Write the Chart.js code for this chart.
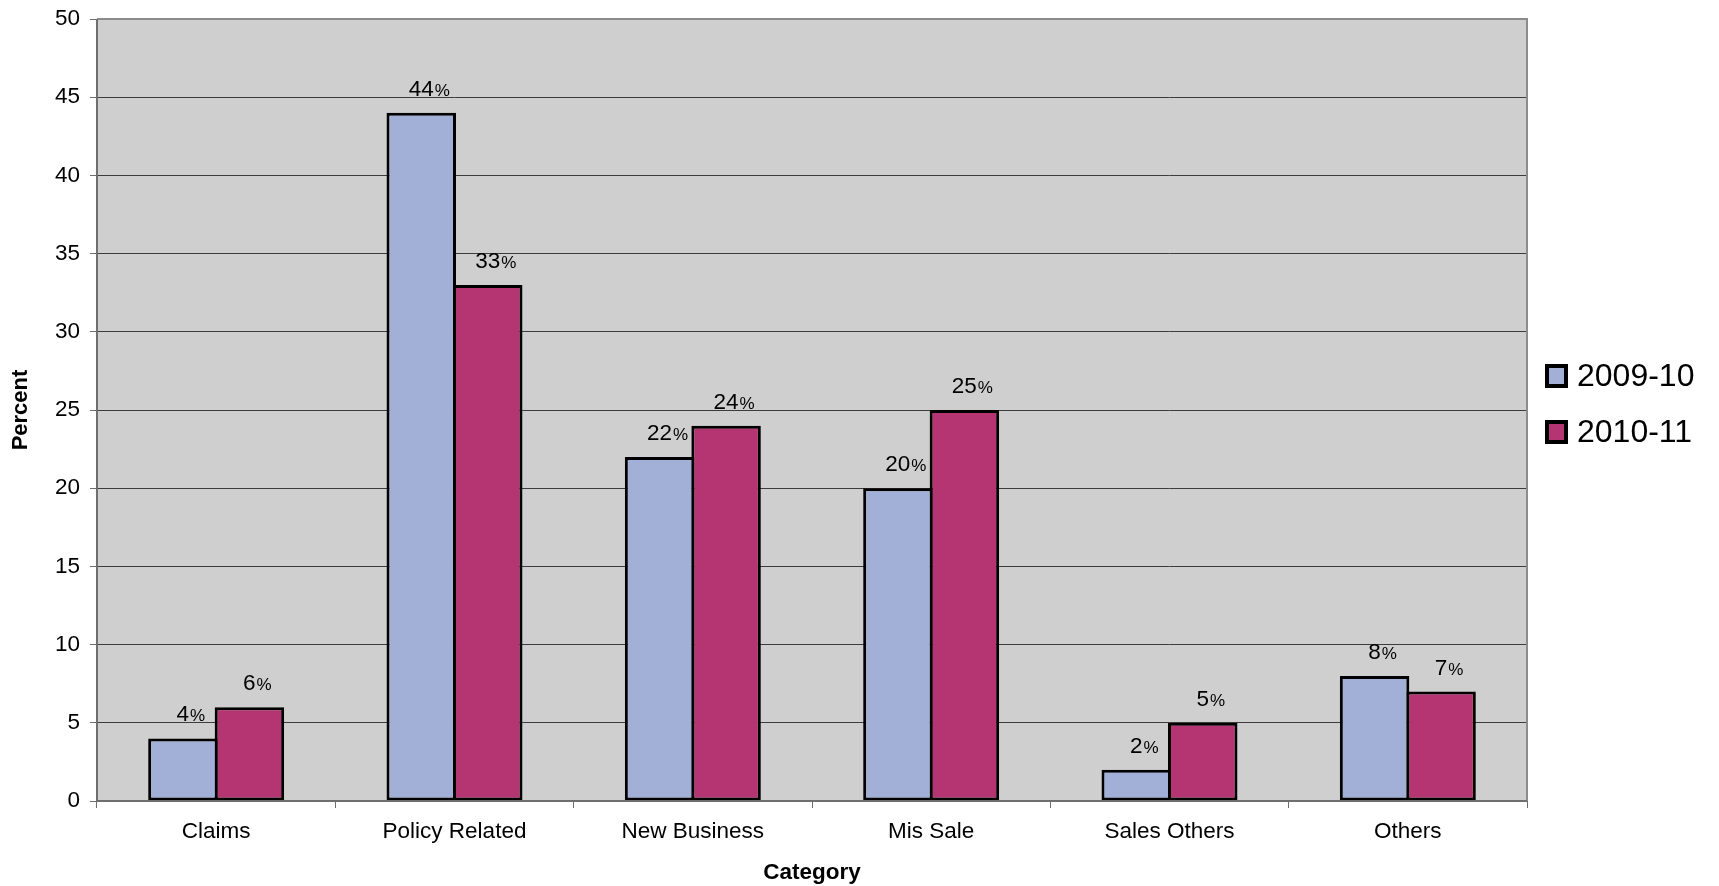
<!DOCTYPE html>
<html>
<head>
<meta charset="utf-8">
<script src="https://cdn.jsdelivr.net/npm/chart.js@4/dist/chart.umd.min.js"></script>
<style>
    html, body { margin: 0; padding: 0; background: #ffffff; }
    #wrap { width: 1719px; height: 886px; position: relative; }
</style>
</head>
<body>
<div id="wrap"><canvas id="complaintsChart"></canvas></div>
<script>
// Chart data
const categories = ['Claims', 'Policy Related', 'New Business', 'Mis Sale', 'Sales Others', 'Others'];
const seriesNames = ['2009-10', '2010-11'];
const values2009 = [4, 44, 22, 20, 2, 8];
const values2010 = [6, 33, 24, 25, 5, 7];
const seriesColors = ['#A2B0D8', '#B53572'];

const FONT = '"Liberation Sans", Arial, sans-serif';

// Grey plot area background + frame
const plotFrame = {
    id: 'plotFrame',
    beforeDraw(chart) {
        const { ctx, chartArea: a } = chart;
        ctx.save();
        ctx.fillStyle = '#CFCFCF';
        ctx.fillRect(a.left, a.top, a.right - a.left, a.bottom - a.top);
        ctx.restore();
    },
    afterDraw(chart) {
        const { ctx, chartArea: a } = chart;
        ctx.save();
        ctx.strokeStyle = '#8C8C8C';
        ctx.lineWidth = 2;
        ctx.beginPath();
        ctx.moveTo(a.left, a.top);
        ctx.lineTo(a.right, a.top);
        ctx.lineTo(a.right, a.bottom);
        ctx.stroke();
        ctx.strokeStyle = '#6E6E6E';
        ctx.beginPath();
        ctx.moveTo(a.left, a.top);
        ctx.lineTo(a.left, a.bottom);
        ctx.lineTo(a.right, a.bottom);
        ctx.stroke();
        ctx.restore();
    }
};

// Value labels above bars ("44%")
const valueLabels = {
    id: 'valueLabels',
    afterDatasetsDraw(chart) {
        const ctx = chart.ctx;
        ctx.save();
        ctx.fillStyle = '#000000';
        ctx.textBaseline = 'alphabetic';
        ctx.textAlign = 'left';
        chart.data.datasets.forEach((ds, i) => {
            chart.getDatasetMeta(i).data.forEach((bar, j) => {
                const num = String(ds.data[j]);
                ctx.font = '22.5px ' + FONT;
                const wNum = ctx.measureText(num).width;
                ctx.font = '17px ' + FONT;
                const wPct = ctx.measureText('%').width;
                const start = bar.x + 8 - (wNum + wPct + 1) / 2;
                const y = bar.y - 17;
                ctx.font = '22.5px ' + FONT;
                ctx.fillText(num, start, y);
                ctx.font = '17px ' + FONT;
                ctx.fillText('%', start + wNum + 1, y);
            });
        });
        ctx.restore();
    }
};

// Legend on the right
const sideLegend = {
    id: 'sideLegend',
    afterDraw(chart) {
        const ctx = chart.ctx;
        const x = 1545;
        const rows = [376, 432];
        ctx.save();
        chart.data.datasets.forEach((ds, i) => {
            const cy = rows[i];
            ctx.fillStyle = '#000000';
            ctx.fillRect(x, cy - 12, 23, 24);
            ctx.fillStyle = ds.backgroundColor;
            ctx.fillRect(x + 4, cy - 8, 15, 16);
            ctx.fillStyle = '#000000';
            ctx.font = '32px ' + FONT;
            ctx.textBaseline = 'middle';
            ctx.textAlign = 'left';
            ctx.fillText(ds.label, x + 32, cy + 1);
        });
        ctx.restore();
    }
};

new Chart(document.getElementById('complaintsChart'), {
    type: 'bar',
    data: {
        labels: categories,
        datasets: [
            {
                label: seriesNames[0],
                data: values2009,
                backgroundColor: seriesColors[0],
                borderColor: '#000000',
                borderWidth: 3,
                borderSkipped: false
            },
            {
                label: seriesNames[1],
                data: values2010,
                backgroundColor: seriesColors[1],
                borderColor: '#000000',
                borderWidth: 3,
                borderSkipped: false
            }
        ]
    },
    options: {
        responsive: true,
        maintainAspectRatio: false,
        animation: false,
        devicePixelRatio: 1,
        categoryPercentage: 0.558,
        barPercentage: 1.045,
        layout: { padding: { left: 0, top: 19, right: 192, bottom: 0 } },
        plugins: {
            legend: { display: false },
            tooltip: { enabled: false }
        },
        scales: {
            x: {
                afterFit(scale) { scale.height = 85; },
                grid: {
                    drawOnChartArea: false,
                    drawTicks: true,
                    tickLength: 7,
                    color: '#6E6E6E',
                    lineWidth: 1
                },
                border: { display: false },
                ticks: {
                    color: '#000000',
                    padding: 10,
                    font: { family: FONT, size: 22.5 }
                },
                title: {
                    display: true,
                    text: 'Category',
                    color: '#000000',
                    font: { family: FONT, size: 22.5, weight: 'bold' },
                    padding: { top: 0, bottom: 0 }
                }
            },
            y: {
                min: 0,
                max: 50,
                afterFit(scale) {
                    scale.width = 97;
                    // let the layout padding alone decide the plot top
                    scale.paddingTop = 0;
                    scale.paddingBottom = 0;
                },
                grid: {
                    color: '#3C3C3C',
                    lineWidth: 1,
                    drawTicks: true,
                    tickLength: 7,
                    tickColor: '#6E6E6E'
                },
                border: { display: false },
                ticks: {
                    stepSize: 5,
                    color: '#000000',
                    padding: 10,
                    font: { family: FONT, size: 22.5 }
                },
                title: {
                    display: true,
                    text: 'Percent',
                    color: '#000000',
                    font: { family: FONT, size: 22, weight: 'bold' },
                    padding: { top: 8, bottom: 0 }
                }
            }
        }
    },
    plugins: [plotFrame, valueLabels, sideLegend]
});
</script>
</body>
</html>
